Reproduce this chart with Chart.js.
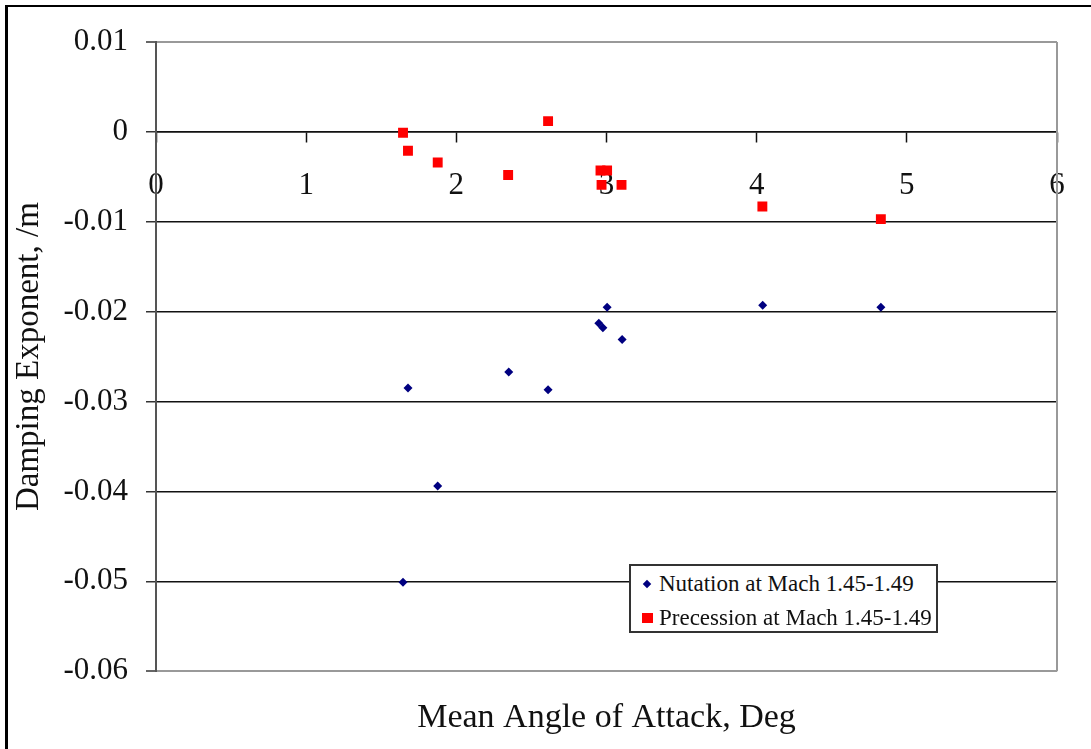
<!DOCTYPE html>
<html>
<head>
<meta charset="utf-8">
<script src="https://cdn.jsdelivr.net/npm/chart.js@4.4.0/dist/chart.umd.min.js"></script>
<style>
    body { margin: 0; background: #fff; overflow: hidden; }
    #wrap { position: relative; width: 1091px; height: 749px; overflow: hidden; }
    #okvir {
        position: absolute; left: 5px; top: 5px; width: 1200px; height: 900px;
        border-left: 3px solid #000; border-top: 2px solid #000; pointer-events: none;
    }
    #legenda {
        position: absolute; left: 629px; top: 564px; width: 309px; height: 69px;
        box-sizing: border-box; border: 2px solid #333; background: #fff;
        font-family: "Liberation Serif", "Times New Roman", serif; font-size: 23px; color: #111;
    }
    .red { position: absolute; left: 0; height: 34px; line-height: 34px; white-space: nowrap; }
    .red span.txt { position: absolute; left: 28px; top: 0; }
    .znak { position: absolute; }
</style>
</head>
<body>
<div id="wrap">
    <canvas id="grafik" width="1091" height="749"></canvas>
    <div id="okvir"></div>
    <div id="legenda"></div>
</div>
<script>
// podaci ocitani sa slike
const nutacijaX = [1.645, 1.678, 1.876, 2.349, 2.611, 2.949, 2.976, 3.004, 3.104, 4.04, 4.827];
const nutacijaY = [-0.0501, -0.0285, -0.0394, -0.0267, -0.0287, -0.0213, -0.0218, -0.0195, -0.0231, -0.0193, -0.0195];

const precesijaX = [1.645, 1.678, 1.876, 2.345, 2.611, 2.96, 2.967, 3.004, 3.1, 4.038, 4.827];
const precesijaY = [-0.0001, -0.0021, -0.0034, -0.0048, 0.0012, -0.0043, -0.0059, -0.0043, -0.0059, -0.0083, -0.0097];

const nazivi = ["Nutation at Mach 1.45-1.49", "Precession at Mach 1.45-1.49"];
const xTicks = [0, 1, 2, 3, 4, 5, 6];
const yTicks = [0.01, 0, -0.01, -0.02, -0.03, -0.04, -0.05, -0.06];

const font = "'Liberation Serif', 'Times New Roman', serif";

function tacke(xs, ys) {
    return xs.map((x, i) => ({ x: x, y: ys[i] }));
}

// desna ivica oblasti grafika
const okvirPlugin = {
    id: 'okvirPlugin',
    afterDraw(chart) {
        const a = chart.chartArea;
        const ctx = chart.ctx;
        ctx.save();
        ctx.strokeStyle = '#999';
        ctx.lineWidth = 2;
        ctx.beginPath();
        ctx.moveTo(a.right, a.top);
        ctx.lineTo(a.right, a.bottom);
        ctx.stroke();
        ctx.restore();
    }
};

const ctx = document.getElementById('grafik').getContext('2d');
const grafik = new Chart(ctx, {
    type: 'scatter',
    data: {
        datasets: [{
            label: nazivi[0],
            data: tacke(nutacijaX, nutacijaY),
            pointStyle: 'rectRot',
            pointRadius: 4.5,
            backgroundColor: '#000080',
            borderColor: '#000080',
            borderWidth: 0
        }, {
            label: nazivi[1],
            data: tacke(precesijaX, precesijaY),
            pointStyle: 'rect',
            pointRadius: 7,
            backgroundColor: '#ff0000',
            borderColor: '#ff0000',
            borderWidth: 0
        }]
    },
    options: {
        responsive: false,
        animation: false,
        devicePixelRatio: 1,
        layout: { padding: { left: 0, top: 42, right: 34, bottom: 0 } },
        plugins: {
            legend: { display: false },
            tooltip: { enabled: false },
            title: {
                display: true,
                position: 'bottom',
                fullSize: false,
                text: 'Mean Angle of Attack, Deg',
                color: '#111',
                font: { family: font, size: 34, weight: 'normal' },
                padding: { top: 26, bottom: 11 }
            }
        },
        scales: {
            x: {
                type: 'linear',
                position: { y: 0 },
                min: 0,
                max: 6,
                afterBuildTicks: (s) => { s.ticks = xTicks.map(v => ({ value: v })); },
                ticks: {
                    color: '#111',
                    padding: 25,
                    maxRotation: 0,
                    font: { family: font, size: 31 },
                    callback: v => String(v)
                },
                grid: {
                    drawOnChartArea: false,
                    drawTicks: true,
                    tickLength: 10,
                    tickColor: '#111',
                    tickWidth: 1.5
                },
                border: { display: true, color: '#111', width: 1.5 }
            },
            y: {
                type: 'linear',
                min: -0.06,
                max: 0.01,
                afterBuildTicks: (s) => { s.ticks = yTicks.map(v => ({ value: v })); },
                afterFit: (s) => { s.width = 156; },
                ticks: {
                    color: '#111',
                    padding: 18,
                    font: { family: font, size: 31 },
                    callback: v => String(Number(v.toFixed(2)))
                },
                grid: {
                    color: c => (Math.abs(c.tick.value - 0.01) < 1e-9 || Math.abs(c.tick.value + 0.06) < 1e-9) ? '#999' : '#111',
                    lineWidth: c => (Math.abs(c.tick.value - 0.01) < 1e-9 || Math.abs(c.tick.value + 0.06) < 1e-9) ? 2 : 1.5,
                    tickLength: 10,
                    tickColor: '#333',
                    tickWidth: 1.5
                },
                border: { display: true, color: '#555', width: 2 },
                title: {
                    display: true,
                    text: 'Damping Exponent, /m',
                    color: '#111',
                    font: { family: font, size: 33, weight: 'normal' },
                    padding: { top: 10, bottom: 0 }
                }
            }
        }
    },
    plugins: [okvirPlugin]
});

// legenda kao HTML, iz datasetova
const legenda = document.getElementById('legenda');
grafik.data.datasets.forEach((ds, i) => {
    const red = document.createElement('div');
    red.className = 'red';
    red.style.top = (1 + i * 34) + 'px';
    const znak = document.createElement('div');
    znak.className = 'znak';
    if (ds.pointStyle === 'rect') {
        znak.style.cssText = 'left:11px;top:12px;width:11px;height:10px;background:' + ds.backgroundColor;
    } else {
        znak.style.cssText = 'left:13px;top:14px;width:6px;height:6px;transform:rotate(45deg);background:' + ds.backgroundColor;
    }
    const txt = document.createElement('span');
    txt.className = 'txt';
    txt.textContent = ds.label;
    red.appendChild(znak);
    red.appendChild(txt);
    legenda.appendChild(red);
});
</script>
</body>
</html>
